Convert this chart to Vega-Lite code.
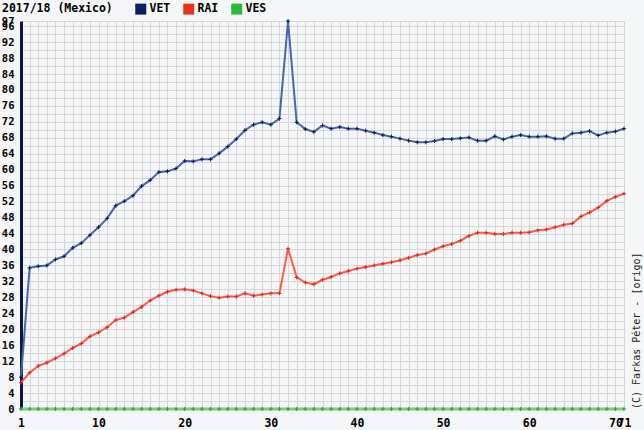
{
  "$schema": "https://vega.github.io/schema/vega-lite/v6.json",
  "width": 603,
  "height": 388,
  "autosize": {"type": "none"},
  "padding": {"left": 21, "top": 21, "right": 20, "bottom": 21},
  "background": "#f5f6f8",
  "config": {
    "view": {"stroke": null},
    "font": "DejaVu Sans Mono",
    "legend": {"padding": 0}
  },
  "title": {
    "text": "(C) Farkas Péter - [origo]",
    "orient": "right",
    "anchor": "end",
    "angle": -90,
    "align": "left",
    "baseline": "middle",
    "offset": -4,
    "frame": "group",
    "font": "DejaVu Sans Mono",
    "fontSize": 10,
    "fontWeight": "normal",
    "color": "#222222"
  },
  "data": {
    "values": [
      {"x":1,"VET":8,"RAI":6.6,"VES":0},{"x":2,"VET":35.4,"RAI":9.1,"VES":0},{"x":3,"VET":35.8,"RAI":10.8,"VES":0},{"x":4,"VET":36.0,"RAI":11.6,"VES":0},{"x":5,"VET":37.5,"RAI":12.7,"VES":0},
      {"x":6,"VET":38.3,"RAI":13.9,"VES":0},{"x":7,"VET":40.4,"RAI":15.3,"VES":0},{"x":8,"VET":41.6,"RAI":16.4,"VES":0},{"x":9,"VET":43.6,"RAI":18.2,"VES":0},{"x":10,"VET":45.6,"RAI":19.2,"VES":0},
      {"x":11,"VET":47.8,"RAI":20.5,"VES":0},{"x":12,"VET":51.0,"RAI":22.3,"VES":0},{"x":13,"VET":52.1,"RAI":22.9,"VES":0},{"x":14,"VET":53.5,"RAI":24.3,"VES":0},{"x":15,"VET":55.9,"RAI":25.6,"VES":0},
      {"x":16,"VET":57.4,"RAI":27.2,"VES":0},{"x":17,"VET":59.4,"RAI":28.4,"VES":0},{"x":18,"VET":59.6,"RAI":29.4,"VES":0},{"x":19,"VET":60.3,"RAI":29.9,"VES":0},{"x":20,"VET":62.2,"RAI":30.0,"VES":0},
      {"x":21,"VET":62.1,"RAI":29.7,"VES":0},{"x":22,"VET":62.6,"RAI":29.0,"VES":0},{"x":23,"VET":62.6,"RAI":28.3,"VES":0},{"x":24,"VET":64.1,"RAI":27.9,"VES":0},{"x":25,"VET":65.8,"RAI":28.2,"VES":0},
      {"x":26,"VET":67.7,"RAI":28.2,"VES":0},{"x":27,"VET":69.9,"RAI":29.0,"VES":0},{"x":28,"VET":71.3,"RAI":28.4,"VES":0},{"x":29,"VET":71.9,"RAI":28.7,"VES":0},{"x":30,"VET":71.3,"RAI":29.0,"VES":0},
      {"x":31,"VET":72.8,"RAI":29.0,"VES":0},{"x":32,"VET":97.3,"RAI":40.2,"VES":0},{"x":33,"VET":71.9,"RAI":33.0,"VES":0},{"x":34,"VET":70.2,"RAI":31.7,"VES":0},{"x":35,"VET":69.5,"RAI":31.3,"VES":0},
      {"x":36,"VET":71.1,"RAI":32.4,"VES":0},{"x":37,"VET":70.3,"RAI":33.1,"VES":0},{"x":38,"VET":70.7,"RAI":34.0,"VES":0},{"x":39,"VET":70.3,"RAI":34.6,"VES":0},{"x":40,"VET":70.3,"RAI":35.2,"VES":0},
      {"x":41,"VET":69.8,"RAI":35.6,"VES":0},{"x":42,"VET":69.3,"RAI":36.0,"VES":0},{"x":43,"VET":68.7,"RAI":36.4,"VES":0},{"x":44,"VET":68.3,"RAI":36.8,"VES":0},{"x":45,"VET":67.8,"RAI":37.3,"VES":0},
      {"x":46,"VET":67.3,"RAI":37.9,"VES":0},{"x":47,"VET":66.9,"RAI":38.6,"VES":0},{"x":48,"VET":66.9,"RAI":39.0,"VES":0},{"x":49,"VET":67.2,"RAI":40.0,"VES":0},{"x":50,"VET":67.7,"RAI":40.8,"VES":0},
      {"x":51,"VET":67.7,"RAI":41.4,"VES":0},{"x":52,"VET":67.9,"RAI":42.2,"VES":0},{"x":53,"VET":68.1,"RAI":43.4,"VES":0},{"x":54,"VET":67.3,"RAI":44.2,"VES":0},{"x":55,"VET":67.3,"RAI":44.2,"VES":0},
      {"x":56,"VET":68.4,"RAI":43.9,"VES":0},{"x":57,"VET":67.6,"RAI":43.9,"VES":0},{"x":58,"VET":68.3,"RAI":44.2,"VES":0},{"x":59,"VET":68.7,"RAI":44.2,"VES":0},{"x":60,"VET":68.3,"RAI":44.3,"VES":0},
      {"x":61,"VET":68.3,"RAI":44.8,"VES":0},{"x":62,"VET":68.4,"RAI":45.0,"VES":0},{"x":63,"VET":67.8,"RAI":45.6,"VES":0},{"x":64,"VET":67.8,"RAI":46.2,"VES":0},{"x":65,"VET":69.1,"RAI":46.5,"VES":0},
      {"x":66,"VET":69.3,"RAI":48.3,"VES":0},{"x":67,"VET":69.7,"RAI":49.3,"VES":0},{"x":68,"VET":68.6,"RAI":50.5,"VES":0},{"x":69,"VET":69.3,"RAI":52.2,"VES":0},{"x":70,"VET":69.6,"RAI":53.2,"VES":0},
      {"x":71,"VET":70.3,"RAI":54.0,"VES":0}
    ]
  },
  "transform": [{"fold": ["VET", "RAI", "VES"], "as": ["series", "v"]}],
  "encoding": {
    "x": {
      "field": "x",
      "type": "quantitative",
      "scale": {"domain": [1, 71], "nice": false, "zero": false},
      "axis": {
        "title": null,
        "values": [1,2,3,4,5,6,7,8,9,10,11,12,13,14,15,16,17,18,19,20,21,22,23,24,25,26,27,28,29,30,31,32,33,34,35,36,37,38,39,40,41,42,43,44,45,46,47,48,49,50,51,52,53,54,55,56,57,58,59,60,61,62,63,64,65,66,67,68,69,70,71],
        "labelExpr": "datum.value == 1 || datum.value % 10 == 0 || datum.value == 71 ? datum.label : ''",
        "labelOverlap": false,
        "labelFlush": false,
        "domain": false,
        "ticks": false,
        "grid": true,
        "gridColor": "#d6d6d6",
        "gridWidth": 1,
        "labelPadding": 8,
        "labelFont": "DejaVu Sans Mono",
        "labelFontSize": 11.5,
        "labelFontWeight": "bold",
        "labelColor": "#000000"
      }
    },
    "y": {
      "field": "v",
      "type": "quantitative",
      "scale": {"domain": [0, 97.3], "nice": false},
      "axis": {
        "title": null,
        "values": [0,2,4,6,8,10,12,14,16,18,20,22,24,26,28,30,32,34,36,38,40,42,44,46,48,50,52,54,56,58,60,62,64,66,68,70,72,74,76,78,80,82,84,86,88,90,92,94,96,97.3],
        "labelExpr": "datum.value % 4 == 0 || datum.value > 97 ? format(datum.value, 'd') : ''",
        "labelOverlap": false,
        "labelFlush": false,
        "domain": true,
        "domainColor": "#0a1840",
        "domainWidth": 3,
        "ticks": false,
        "grid": true,
        "gridColor": "#d6d6d6",
        "gridWidth": 1,
        "labelPadding": 7,
        "labelFont": "DejaVu Sans Mono",
        "labelFontSize": 10.5,
        "labelFontWeight": "bold",
        "labelColor": "#000000"
      }
    }
  },
  "layer": [
    {
      "transform": [{"filter": "datum.series == 'VES'"}],
      "mark": {"type": "line", "stroke": "#80cc88", "strokeWidth": 3},
      "encoding": {}
    },
    {
      "transform": [{"filter": "datum.series == 'RAI'"}],
      "mark": {"type": "line", "stroke": "#ff5a48", "strokeWidth": 2},
      "encoding": {}
    },
    {
      "transform": [{"filter": "datum.series == 'VET'"}],
      "mark": {"type": "line", "stroke": "#4a64ae", "strokeWidth": 2},
      "encoding": {}
    },
    {
      "mark": {"type": "point", "shape": "M-1,0H1M0,-1V1", "size": 16, "filled": true, "strokeWidth": 1, "opacity": 1},
      "encoding": {
        "fill": {
          "field": "series",
          "type": "nominal",
          "scale": {"domain": ["VET", "RAI", "VES"], "range": ["#0b1f5e", "#e8341c", "#2cb83c"]},
          "legend": {
            "orient": "none",
            "legendX": -19,
            "legendY": -18,
            "direction": "horizontal",
            "title": "2017/18 (Mexico)",
            "titleOrient": "left",
            "titleFont": "DejaVu Sans Mono",
            "titleFontSize": 11.5,
            "titleFontWeight": "bold",
            "titleColor": "#000000",
            "titlePadding": 22,
            "labelFont": "DejaVu Sans Mono",
            "labelFontSize": 11.5,
            "labelFontWeight": "bold",
            "labelColor": "#000000",
            "symbolType": "square",
            "symbolSize": 121,
            "symbolStrokeWidth": 0,
            "symbolOpacity": 1,
            "labelOffset": 3,
            "columnPadding": 12
          }
        },
        "stroke": {
          "field": "series",
          "type": "nominal",
          "scale": {"domain": ["VET", "RAI", "VES"], "range": ["#0a1a50", "#d82818", "#1ea82a"]},
          "legend": null
        }
      }
    },
    {
      "data": {"values": [{"x": 32}]},
      "transform": [],
      "mark": {"type": "rule", "color": "#22bb33", "strokeWidth": 1},
      "encoding": {
        "x": {"field": "x", "type": "quantitative"},
        "y": {"datum": 0},
        "y2": {"datum": 97.3}
      }
    }
  ]
}
